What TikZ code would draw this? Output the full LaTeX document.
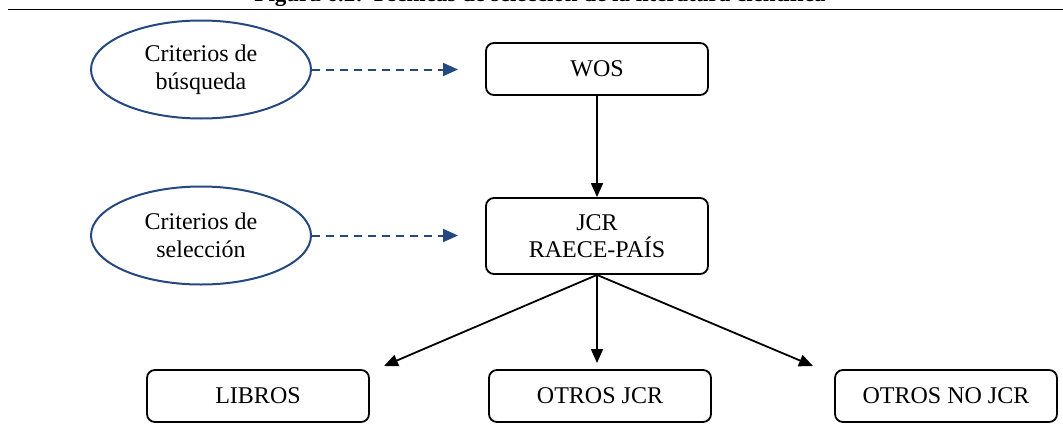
\documentclass[tikz,border=0pt]{standalone}
\usepackage{fontspec}
\setmainfont{Liberation Serif}
\usetikzlibrary{arrows.meta,shapes.geometric}
\definecolor{azulcrit}{RGB}{38,72,128}

\begin{document}
\begin{tikzpicture}
    [x=0.5pt,y=-0.5pt,
     every node/.style={font=\fontsize{12}{13.8}\selectfont, align=center, inner sep=0pt},
     crit/.style={ellipse, draw=azulcrit, line width=1pt, minimum width=110pt, minimum height=49pt},
     caja/.style={rectangle, rounded corners=4pt, draw, line width=0.9pt, minimum width=111pt, minimum height=26pt},
     flecha/.style={line width=0.9pt, -{Triangle[length=7pt,width=6pt]}},
     dasharrow/.style={azulcrit, line width=1pt, dash pattern=on 4pt off 3pt, -{Triangle[length=7.5pt,width=6.5pt]}}]
    \useasboundingbox (0,0) rectangle (1063,423);
    \node[font=\fontsize{11.5}{13}\selectfont\bfseries, anchor=base] (titulo) at (540,2) {Figura 6.2: Técnicas de selección de la literatura científica};
    \draw[line width=0.6pt] (8,9.5) -- (1063,9.5);

    \node[crit] (crit1) at (201,69.5) {Criterios de\\búsqueda};
    \node[crit] (crit2) at (201,235.5) {Criterios de\\selección};

    \node[caja] (wos) at (597,69) {WOS};
    \node[caja, minimum height=38pt] (jcr) at (597,236) {JCR\\RAECE-PAÍS};
    \node[caja] (libros) at (258,396) {LIBROS};
    \node[caja] (otrosjcr) at (600,396) {OTROS JCR};
    \node[caja] (otrosno) at (946,396) {OTROS NO JCR};

    \coordinate (d1) at (458,69.5);
    \coordinate (d2) at (458,235.5);
    \coordinate (t1) at (384,366);
    \coordinate (t2) at (597,363);
    \coordinate (t3) at (813,366);

    \draw[dasharrow] (crit1.east) -- (d1);
    \draw[dasharrow] (crit2.east) -- (d2);
    \draw[flecha] (wos) -- (jcr);
    \draw[flecha] (jcr.south) -- (t1);
    \draw[flecha] (jcr.south) -- (t2);
    \draw[flecha] (jcr.south) -- (t3);
\end{tikzpicture}
\end{document}
